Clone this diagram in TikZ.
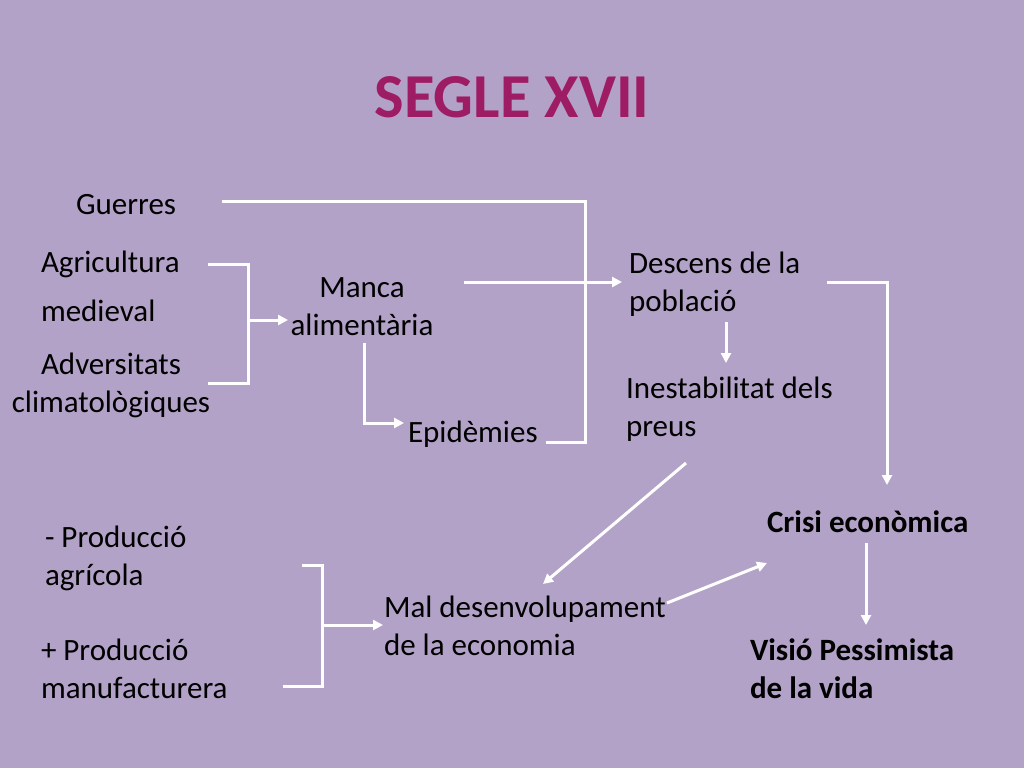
\documentclass[tikz,border=0pt]{standalone}
\usepackage{fontspec}
\setmainfont{Carlito}
\usetikzlibrary{arrows.meta}
\definecolor{bg}{HTML}{B3A2C7}
\definecolor{titlec}{HTML}{9E1C64}
\begin{document}
\begin{tikzpicture}[x=1pt,y=-1pt,
  txt/.style={inner sep=0pt,outer sep=0pt,align=left,anchor=base west,font=\fontsize{31}{37.5}\selectfont,text=black},
  txtc/.style={txt,align=center,anchor=base},
  bold/.style={font=\fontsize{31}{37.5}\selectfont\bfseries},
  wline/.style={draw=white,line width=3pt},
  warrow/.style={wline,-{Triangle[length=10pt,width=10pt]}}]
\fill[bg] (0,0) rectangle (1024,768);
\useasboundingbox (0,0) rectangle (1024,768);
% title
\node[inner sep=0pt,anchor=base,text=titlec,font=\fontsize{62.5}{70}\selectfont\bfseries] (title) at (512,117) {SEGLE XVII};
% texts (base anchor = baseline of the last line)
\node[txt] (guerres) at (76,214) {Guerres};
\node[txt] (agri) at (41,272) {Agricultura};
\node[txt] (medieval) at (41,321) {medieval};
\node[txtc] (advers) at (111,412) {Adversitats\\climatològiques};
\node[txtc] (manca) at (362,335) {Manca\\alimentària};
\node[txt] (epid) at (408,442) {Epidèmies};
\node[txt] (descens) at (629,311) {Descens de la\\població};
\node[txt] (inest) at (626,436) {Inestabilitat dels\\preus};
\node[txt,bold] (crisi) at (767,532) {Crisi econòmica};
\node[txt,bold] (visio) at (750,698) {Visió Pessimista\\de la vida};
\node[txt] (menys) at (45,585) {- Producció\\agrícola};
\node[txt] (mes) at (41,698) {+ Producció\\manufacturera};
\node[txt] (mal) at (384,655) {Mal desenvolupament\\de la economia};
% coordinates
\coordinate (g1) at (222,201);
\coordinate (g2) at (585,201);
\coordinate (g3) at (585,442);
\coordinate (g4) at (546,442);
\coordinate (b1) at (208,264);
\coordinate (b2) at (248,264);
\coordinate (b3) at (248,383);
\coordinate (b4) at (208,383);
\coordinate (bm) at (248,320);
\coordinate (bt) at (288,320);
\coordinate (m1) at (464,282);
\coordinate (m2) at (622,282);
\coordinate (e1) at (364,343);
\coordinate (e2) at (364,423);
\coordinate (e3) at (404,423);
\coordinate (d1) at (827,282);
\coordinate (d2) at (887,282);
\coordinate (d3) at (887,485);
\coordinate (i1) at (726,322);
\coordinate (i2) at (726,363);
\coordinate (n1) at (686,463);
\coordinate (n2) at (543,584);
\coordinate (k1) at (667,603);
\coordinate (k2) at (767,563);
\coordinate (c1) at (866,543);
\coordinate (c2) at (866,625);
\coordinate (p1) at (302,565);
\coordinate (p2) at (322,565);
\coordinate (p3) at (322,686);
\coordinate (p4) at (283,686);
\coordinate (pm) at (322,625);
\coordinate (pt) at (383,625);
% connectors
\draw[wline] (g1) -- (g2) -- (g3) -- (g4);
\draw[wline] (b1) -- (b2) -- (b3) -- (b4);
\draw[warrow] (bm) -- (bt);
\draw[warrow] (m1) -- (m2);
\draw[warrow] (e1) -- (e2) -- (e3);
\draw[warrow] (d1) -- (d2) -- (d3);
\draw[warrow] (i1) -- (i2);
\draw[warrow] (n1) -- (n2);
\draw[warrow] (k1) -- (k2);
\draw[warrow] (c1) -- (c2);
\draw[wline] (p1) -- (p2) -- (p3) -- (p4);
\draw[warrow] (pm) -- (pt);
\end{tikzpicture}
\end{document}
